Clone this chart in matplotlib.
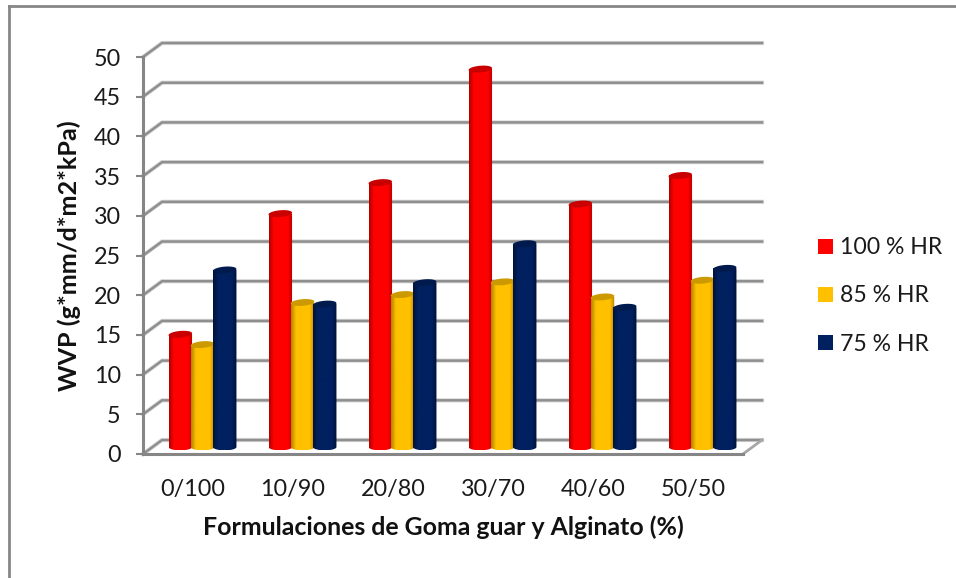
import numpy as np
import matplotlib
matplotlib.use('Agg')
import matplotlib.pyplot as plt
import matplotlib.patheffects as pe
from matplotlib.colors import LinearSegmentedColormap
from matplotlib.lines import Line2D
from matplotlib.patches import Polygon

plt.rcParams['font.family'] = ['Lato', 'DejaVu Sans']

formulaciones = ['0/100', '10/90', '20/80', '30/70', '40/60', '50/50']
series_names = ['100 % HR', '85 % HR', '75 % HR']
hr_100 = [14.2, 29.4, 33.3, 47.6, 30.6, 34.2]
hr_85 = [12.9, 18.2, 19.2, 20.8, 18.9, 21.0]
hr_75 = [22.3, 18.0, 20.7, 25.6, 17.6, 22.5]
y_ticks = [0, 5, 10, 15, 20, 25, 30, 35, 40, 45, 50]

# edge / centre / top colours of each cylinder
colors = ['#FF0000', '#FFC000', '#002060']
edge_colors = ['#B00000', '#B08400', '#001237']
top_colors = ['#C80000', '#CC9A00', '#001A4D']

W, H = 956, 578
fig = plt.figure(figsize=(W / 100, H / 100), dpi=100)
ax = fig.add_axes([143 / W, 1 - 454 / H, 600 / W, 397 / H])
ax.set_xlim(0, 6)
ax.set_ylim(0, 50)

# chart border: only the top and left sides are visible
frame = dict(color='#868686', lw=2, transform=fig.transFigure)
fig.add_artist(Line2D([9 / W, 1], [1 - 6 / H, 1 - 6 / H], **frame))
fig.add_artist(Line2D([9 / W, 9 / W], [1 - 6 / H, 0], **frame))

# fake 3D depth of the box, in data units
back_x, back_y = 0.19, 1.76
mid_x, mid_y = 0.095, 0.88

shadow = [pe.withStroke(linewidth=3.0, foreground='#d8d8d8')]
for v in y_ticks:
    ax.plot([0, back_x, 6 + back_x], [v, v + back_y, v + back_y], color='#8f8f8f',
            lw=1.8, clip_on=False, zorder=1, path_effects=shadow, solid_joinstyle='miter')
ax.plot([6, 6 + back_x], [0, back_y], color='#a6a6a6', lw=2, clip_on=False, zorder=1)

bar_w, step = 0.235, 0.222
ell_b = 0.42
tilt = 0.12
t = np.linspace(0, 2 * np.pi, 60)
handles = []
for s, vals in enumerate([hr_100, hr_85, hr_75]):
    cmap = LinearSegmentedColormap.from_list(
        'cyl', [(0, edge_colors[s]), (0.2, colors[s]), (0.8, colors[s]), (1, edge_colors[s])])
    grad = np.linspace(0, 1, 64).reshape(1, -1)
    for i, v in enumerate(vals):
        xc = i + 0.5 + mid_x + (s - 1) * step
        z = 3 + i * 3 + s
        bar = ax.bar(xc, v, bar_w, bottom=mid_y, color=colors[s], zorder=z, clip_on=False)
        if i == 0:
            handles.append(bar[0])
        # outline: straight sides, rounded foot
        u = np.linspace(np.pi, 2 * np.pi, 30)
        xs = np.r_[xc + bar_w / 2 * np.cos(u), xc + bar_w / 2, xc - bar_w / 2]
        ys = np.r_[mid_y + ell_b * np.sin(u), mid_y + v, mid_y + v]
        outline = Polygon(np.c_[xs, ys], closed=True, transform=ax.transData, fc='none', ec='none')
        ax.add_patch(outline)
        outline.set_clip_on(False)
        im = ax.imshow(grad, extent=(xc - bar_w / 2, xc + bar_w / 2, mid_y - ell_b, mid_y + v),
                       cmap=cmap, aspect='auto', zorder=z + 0.1, interpolation='bilinear')
        im.set_clip_path(outline)
        top = np.c_[xc + bar_w / 2 * np.cos(t),
                    mid_y + v + ell_b * np.sin(t) + tilt * np.cos(t)]
        ax.add_patch(Polygon(top, closed=True, fc=top_colors[s], ec='none',
                             zorder=z + 0.2, clip_on=False))

ax.set_xlim(0, 6)
ax.set_ylim(0, 50)

for side in ['top', 'right']:
    ax.spines[side].set_visible(False)
for side in ['left', 'bottom']:
    ax.spines[side].set_color('#868686')
    ax.spines[side].set_linewidth(2.2)
    ax.spines[side].set_zorder(2)
ax.set_xticks(np.arange(6) + 0.5)
ax.set_xticklabels(formulaciones)
ax.set_yticks(y_ticks)
ax.tick_params(axis='x', length=0, pad=18, labelsize=16.8, colors='#1a1a1a')
ax.tick_params(axis='y', length=5, width=1.5, color='#868686', pad=11, labelsize=16.8, labelcolor='#1a1a1a')

ax.set_xlabel('Formulaciones de Goma guar y Alginato (%)', fontsize=17.9, fontweight='bold',
              labelpad=11, color='#111111')
ax.set_ylabel('WVP (g*mm/d*m2*kPa)', fontsize=18.2, fontweight='bold', labelpad=9, color='#111111')

ax.legend(handles, series_names, loc='center left', bbox_to_anchor=(797 / W, 1 - 296 / H),
          bbox_transform=fig.transFigure, frameon=False, fontsize=16.6,
          handlelength=0.65, handleheight=0.65, handletextpad=0.3, labelspacing=1.18,
          labelcolor='#1a1a1a')

fig.savefig('out.png', dpi=100)
